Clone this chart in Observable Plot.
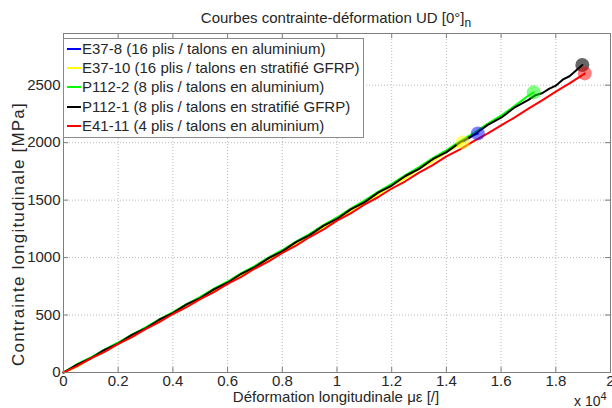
<!DOCTYPE html>
<html><head><meta charset="utf-8">
<script src="https://cdn.jsdelivr.net/npm/d3@7"></script>
<script src="https://cdn.jsdelivr.net/npm/@observablehq/plot@0.6"></script>
<style>
body{margin:0;background:#fff;}
#wrap{position:relative;width:612px;height:408px;overflow:hidden;font-family:"Liberation Sans",Arial,Helvetica,sans-serif;color:#262626;background:#fff;}
.ov{position:absolute;white-space:nowrap;font-size:15px;line-height:1;}
#legend{position:absolute;left:63px;top:38px;width:299px;height:98px;border:1px solid #8a8a8a;background:#fff;}
.row{position:absolute;left:0;height:16px;font-size:15px;line-height:16px;white-space:nowrap;}
.sw{position:absolute;left:3px;top:7px;width:14px;height:0;border-top:2px solid;}
.lt{position:absolute;left:18px;top:0;}
</style></head><body><div id="wrap"></div>
<script>
// ---- data ----
const strainSteps = [0,500,1000,1500,2000,2500,3000,3500,4000,4500,5000,5500,6000,6500,7000,7500,8000,8500,9000,9500,10000,10500,11000,11500,12000,12500,13000,13500,14000,14500,15000,15500,16000,16500,17000,17500,18000,18500,19000];
const strainP112_1 = [0,500,1000,1500,2000,2500,3000,3500,4000,4500,5000,5500,6000,6500,7000,7500,8000,8500,9000,9500,10000,10500,11000,11500,12000,12500,13000,13500,14000,14500,15000,15500,16000,16500,17000,17250,17500,17750,18000,18250,18500,18750];

const seriesNames = [
  "E37-8 (16 plis / talons en aluminium)",
  "E37-10 (16 plis / talons en stratifié GFRP)",
  "P112-2 (8 plis / talons en aluminium)",
  "P112-1 (8 plis / talons en stratifié GFRP)",
  "E41-11 (4 plis / talons en aluminium)"
];
const seriesColors = ["#0000ff", "#ffff00", "#00ff00", "#000000", "#ff0000"];

const stressE37_8 = [0,60,124,187,252,317,384,449,517,582,649,714,782,849,918,985,1055,1124,1196,1265,1337,1408,1482,1554,1628,1699,1773,1845,1919,1991,2066];
const stressE37_10 = [0,52,124,180,251,310,383,442,516,575,648,707,781,842,917,978,1054,1117,1195,1258,1336,1401,1481,1547,1627,1692,1772,1838,1918,1985];
const stressP112_2 = [0,72,132,200,261,330,393,463,526,596,659,729,792,864,928,1001,1066,1140,1207,1282,1349,1426,1495,1572,1642,1718,1787,1865,1934,2013,2084,2163,2235,2320,2410];
const stressP112_1 = [0,68,124,197,252,327,383,459,517,592,648,724,781,859,917,996,1054,1134,1195,1276,1336,1419,1481,1565,1627,1710,1772,1856,1918,2003,2067,2153,2217,2308,2373,2412,2430,2468,2496,2548,2578,2630];
const stressE41_11 = [0,55,123,180,249,308,378,438,509,568,639,699,771,832,905,967,1040,1104,1179,1244,1321,1385,1461,1525,1601,1664,1740,1805,1881,1941,2013,2078,2150,2220,2296,2368,2444,2516,2592];

// rupture points (last point of each curve)
const ruptureStrain = [15150, 14600, 17190, 18970, 19060];
const ruptureStress = [2080, 2003, 2438, 2676, 2603];

const xTicks = [0,2000,4000,6000,8000,10000,12000,14000,16000,18000,20000];
const xTickLabels = ["0","0.2","0.4","0.6","0.8","1","1.2","1.4","1.6","1.8","2"];
const yTicks = [0,500,1000,1500,2000,2500];

// ---- build tables ----
const stressLists = [stressE37_8, stressE37_10, stressP112_2, stressP112_1, stressE41_11];
const strainLists = [strainSteps, strainSteps, strainSteps, strainP112_1, strainSteps];
const curves = stressLists.map((s, k) => {
  const pts = s.map((v, i) => ({x: strainLists[k][i], y: v}));
  pts.push({x: ruptureStrain[k], y: ruptureStress[k]});
  return pts;
});
const ends = ruptureStrain.map((x, k) => ({x, y: ruptureStress[k], k}));

const W = 612, H = 408;
const mL = 63, mR = 2, mT = 33, mB = 36;
const fw = W - mL - mR, fh = H - mT - mB;
const axisCol = "#7f7f7f";

const marks = [
  Plot.gridX(xTicks, {stroke: "#b8b8b8", strokeOpacity: 1, strokeDasharray: "1,2"}),
  Plot.gridY(yTicks, {stroke: "#b8b8b8", strokeOpacity: 1, strokeDasharray: "1,2"}),
  // inward ticks (bottom, top, left, right)
  Plot.tickX(xTicks, {x: d => d, stroke: axisCol, insetTop: fh - 5}),
  Plot.tickX(xTicks, {x: d => d, stroke: axisCol, insetBottom: fh - 5}),
  Plot.tickY(yTicks, {y: d => d, stroke: axisCol, insetRight: fw - 5}),
  Plot.tickY(yTicks, {y: d => d, stroke: axisCol, insetLeft: fw - 5}),
  Plot.axisX(xTicks, {tickSize: 0, tickPadding: 3, fontSize: 15, fill: "#262626", tickFormat: d => xTickLabels[xTicks.indexOf(d)], label: null}),
  Plot.axisY(yTicks, {tickSize: 0, tickPadding: 3, fontSize: 15, fill: "#262626", tickFormat: d => String(d), label: null}),
];
curves.forEach((pts, k) => {
  marks.push(Plot.line(pts, {x: "x", y: "y", stroke: seriesColors[k], strokeWidth: 2, strokeLinejoin: "round"}));
});
ends.forEach((e, k) => {
  marks.push(Plot.dot([e], {x: "x", y: "y", r: 7, fill: seriesColors[k], fillOpacity: k === 3 ? 0.6 : 0.5, stroke: "none"}));
});
marks.push(Plot.frame({stroke: axisCol}));

const chart = Plot.plot({
  width: W, height: H,
  marginLeft: mL, marginRight: mR, marginTop: mT, marginBottom: mB,
  x: {domain: [0, 20000]},
  y: {domain: [0, 2950]},
  style: {fontFamily: '"Liberation Sans", Arial, sans-serif', fontSize: "15px", background: "white", overflow: "visible"},
  marks
});

const wrap = document.getElementById("wrap");
wrap.appendChild(chart);

function ov(html, css) {
  const d = document.createElement("div");
  d.className = "ov";
  d.innerHTML = html;
  Object.assign(d.style, css);
  wrap.appendChild(d);
  return d;
}
ov('Courbes contrainte-déformation UD [0°]<sub style="font-size:12px;vertical-align:-4px;line-height:0">n</sub>', {left: "336px", top: "10px", transform: "translateX(-50%)"});
ov('Déformation longitudinale με [/]', {left: "336px", top: "389px", transform: "translateX(-50%)"});
ov('x 10<sup style="font-size:11px;vertical-align:6px;line-height:0">4</sup>', {left: "574px", top: "394px", fontSize: "14px"});
ov('Contrainte longitudinale [MPa]', {left: "18px", top: "234px", fontSize: "17px", letterSpacing: "1.2px", transform: "translate(-50%,-50%) rotate(-90deg)"});

const leg = document.createElement("div");
leg.id = "legend";
seriesNames.forEach((name, k) => {
  const r = document.createElement("div");
  r.className = "row";
  r.style.top = (2 + k * 19.2) + "px";
  const sw = document.createElement("span");
  sw.className = "sw";
  sw.style.borderTopColor = seriesColors[k];
  const t = document.createElement("span");
  t.className = "lt";
  t.textContent = name;
  r.appendChild(sw); r.appendChild(t);
  leg.appendChild(r);
});
wrap.appendChild(leg);
</script></body></html>
